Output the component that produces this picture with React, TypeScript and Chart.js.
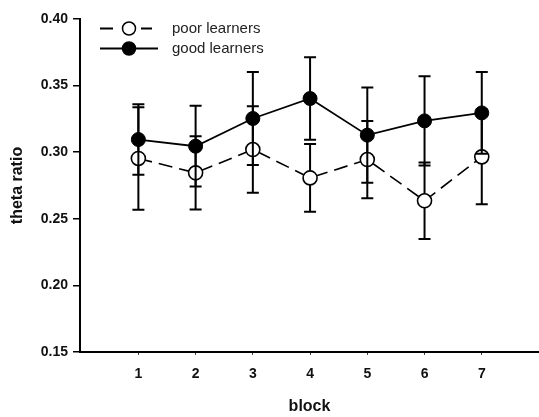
import React, { useEffect, useRef } from "react";
import { Chart, registerables } from "chart.js";

Chart.register(...registerables);

const blocks = [1, 2, 3, 4, 5, 6, 7];
const poorMeans = [0.2953, 0.2845, 0.302, 0.2807, 0.2945, 0.2635, 0.2965];
const poorErrors = [0.0385, 0.0275, 0.0325, 0.0255, 0.029, 0.0287, 0.0355];
const goodMeans = [0.3095, 0.3045, 0.3253, 0.3403, 0.3128, 0.3235, 0.3295];
const goodErrors = [0.0265, 0.0303, 0.035, 0.031, 0.0357, 0.0335, 0.0307];
const yTickValues = [0.15, 0.2, 0.25, 0.3, 0.35, 0.4];
const seriesNames = ["poor learners", "good learners"];
const xTitle = "block";
const yTitle = "theta ratio";

const FONT = '"Liberation Sans", Arial, Helvetica, sans-serif';

const errorBarPlugin = {
  id: "errorBars",
  beforeDatasetDraw(chart: any, args: any) {
    const ds = chart.data.datasets[args.index];
    const errs: number[] = ds.errors || [];
    const xs = chart.scales.x;
    const ys = chart.scales.y;
    const ctx = chart.ctx;
    ctx.save();
    ctx.strokeStyle = "#000";
    ctx.lineWidth = 2;
    ctx.setLineDash([]);
    ds.data.forEach((pt: any, i: number) => {
      const px = xs.getPixelForValue(pt.x);
      const top = ys.getPixelForValue(pt.y + errs[i]);
      const bot = ys.getPixelForValue(pt.y - errs[i]);
      ctx.beginPath();
      ctx.moveTo(px, top);
      ctx.lineTo(px, bot);
      ctx.moveTo(px - 6, top);
      ctx.lineTo(px + 6, top);
      ctx.moveTo(px - 6, bot);
      ctx.lineTo(px + 6, bot);
      ctx.stroke();
    });
    ctx.restore();
  },
};

const legendPlugin = {
  id: "customLegend",
  afterDraw(chart: any) {
    const ctx = chart.ctx;
    const { left, top } = chart.chartArea;
    const rows = [
      { y: top + 9.5, dashed: true, fill: "#fff", label: seriesNames[0] },
      { y: top + 29.5, dashed: false, fill: "#000", label: seriesNames[1] },
    ];
    ctx.save();
    rows.forEach((r) => {
      const x0 = left + 20;
      const x1 = left + 78;
      const cx = left + 49;
      ctx.strokeStyle = "#000";
      ctx.lineWidth = 1.8;
      ctx.beginPath();
      if (r.dashed) {
        ctx.moveTo(x0, r.y);
        ctx.lineTo(x0 + 13, r.y);
        ctx.moveTo(x1 - 17, r.y);
        ctx.lineTo(x1 - 6, r.y);
      } else {
        ctx.moveTo(x0, r.y);
        ctx.lineTo(x1, r.y);
      }
      ctx.stroke();
      ctx.beginPath();
      ctx.arc(cx, r.y, 6.5, 0, Math.PI * 2);
      ctx.fillStyle = r.fill;
      ctx.fill();
      ctx.lineWidth = 1.5;
      ctx.stroke();
      ctx.fillStyle = "#222";
      ctx.font = `15px ${FONT}`;
      ctx.textBaseline = "middle";
      ctx.textAlign = "left";
      ctx.fillText(r.label, left + 92, r.y + 0.5);
    });
    ctx.restore();
  },
};

export default function App() {
  const canvasRef = useRef<HTMLCanvasElement | null>(null);

  useEffect(() => {
    if (!canvasRef.current) return;
    const chart = new Chart(canvasRef.current, {
      type: "line",
      data: {
        datasets: [
          {
            label: seriesNames[0],
            data: blocks.map((b, i) => ({ x: b, y: poorMeans[i] })),
            errors: poorErrors,
            borderColor: "#000",
            borderWidth: 1.6,
            borderDash: [14, 7],
            pointRadius: 7,
            pointBackgroundColor: "#fff",
            pointBorderColor: "#000",
            pointBorderWidth: 1.6,
            tension: 0,
            order: 1,
          } as any,
          {
            label: seriesNames[1],
            data: blocks.map((b, i) => ({ x: b, y: goodMeans[i] })),
            errors: goodErrors,
            borderColor: "#000",
            borderWidth: 1.8,
            pointRadius: 7,
            pointBackgroundColor: "#000",
            pointBorderColor: "#000",
            pointBorderWidth: 1,
            tension: 0,
            order: 0,
          } as any,
        ],
      },
      options: {
        animation: false,
        responsive: false,
        devicePixelRatio: 1,
        layout: { autoPadding: false, padding: { top: 19, right: 0, left: 0, bottom: 0 } },
        plugins: {
          legend: { display: false },
          tooltip: { enabled: false },
        },
        scales: {
          x: {
            type: "linear",
            min: -0.02,
            max: 8,
            afterBuildTicks: (s: any) => {
              s.ticks = blocks.map((v) => ({ value: v }));
            },
            afterFit: (s: any) => {
              s.height = 65;
            },
            grid: {
              display: true,
              drawOnChartArea: false,
              drawTicks: true,
              tickLength: 3,
              color: "#444",
              lineWidth: 1,
            },
            border: { display: true, color: "#000", width: 2 },
            ticks: {
              padding: 11,
              autoSkip: false,
              maxRotation: 0,
              color: "#111",
              font: { family: FONT, size: 14, weight: "bold" },
              callback: (v: any) => String(v),
            },
            title: {
              display: true,
              text: xTitle,
              color: "#111",
              font: { family: FONT, size: 16, weight: "bold" },
              padding: { top: 0, bottom: 1 },
            },
          },
          y: {
            type: "linear",
            min: 0.15,
            max: 0.4,
            afterBuildTicks: (s: any) => {
              s.ticks = yTickValues.map((v) => ({ value: v }));
            },
            afterFit: (s: any) => {
              s.width = 80;
            },
            grid: {
              display: true,
              drawOnChartArea: false,
              drawTicks: true,
              tickLength: 7,
              color: "#000",
              lineWidth: 1.5,
            },
            border: { display: true, color: "#000", width: 2 },
            ticks: {
              padding: 5,
              color: "#111",
              font: { family: FONT, size: 14, weight: "bold" },
              callback: (v: any) => Number(v).toFixed(2),
            },
            title: {
              display: true,
              text: yTitle,
              color: "#111",
              font: { family: FONT, size: 16, weight: "bold" },
              padding: { top: 8, bottom: 0 },
            },
          },
        },
      } as any,
      plugins: [errorBarPlugin, legendPlugin],
    });
    return () => chart.destroy();
  }, []);

  return (
    <div style={{ position: "absolute", left: 0, top: 0, width: 539, height: 417, background: "#fff" }}>
      <canvas ref={canvasRef} width={539} height={417} style={{ display: "block", width: 539, height: 417 }} />
    </div>
  );
}
